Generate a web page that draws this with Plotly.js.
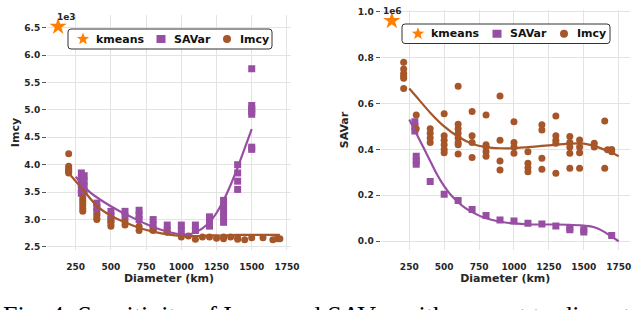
<!DOCTYPE html>
<html><head><meta charset="utf-8">
<script src="https://cdn.plot.ly/plotly-3.0.1.min.js"></script>
<style>html,body{margin:0;padding:0;background:#fff;}#chart{width:640px;height:310px;}</style>
</head><body><div id="chart"></div>
<script>
// ---------- data ----------
const kmeansX = [125];
const kmeansImcy = [6.52];   // x1e3
const kmeansSavar = [0.96];  // x1e6

// Left panel (Imcy, x1e3)
const leftSavarX = [290,290,290,290,290,310,310,310,310,400,400,400,500,500,500,600,600,700,700,700,800,800,800,900,900,1000,1000,1100,1100,1200,1200,1200,1300,1300,1300,1300,1300,1400,1400,1400,1400,1500,1500,1500,1500,1500,1500,1500];
const leftSavarY = [3.85,3.75,3.65,3.55,3.48,3.8,3.7,3.6,3.5,3.3,3.22,3.15,3.15,3.07,3.0,3.15,3.05,3.17,3.08,3.0,3.0,2.9,2.82,2.9,2.8,2.9,2.8,2.9,2.8,3.05,2.95,2.88,3.35,3.25,3.15,3.05,2.95,4.0,3.85,3.7,3.55,5.75,5.08,5.02,4.97,4.92,4.32,4.28];
const leftImcyX = [200,200,200,200,200,200,300,300,300,300,300,300,400,400,400,500,500,500,600,600,700,700,800,900,1000,1050,1100,1150,1200,1250,1300,1300,1350,1400,1400,1450,1500,1580,1650,1680,1700];
const leftImcyY = [4.2,3.97,3.93,3.9,3.87,3.85,3.4,3.35,3.3,3.25,3.2,3.15,3.08,3.03,3.0,2.97,2.92,2.88,2.96,2.9,2.88,2.8,2.8,2.77,2.68,2.7,2.64,2.68,2.68,2.66,2.65,2.68,2.68,2.67,2.64,2.63,2.67,2.67,2.63,2.65,2.65];
const leftSavarFitX = [250,350,450,550,650,750,850,950,1000,1050,1100,1150,1200,1250,1300,1350,1400,1450,1500];
const leftSavarFitY = [3.78,3.5,3.32,3.17,3.04,2.92,2.82,2.75,2.73,2.73,2.77,2.84,2.95,3.12,3.35,3.63,3.95,4.3,4.65];
const leftImcyFitX = [200,250,300,400,500,600,700,800,900,1000,1100,1200,1300,1400,1500,1600,1700];
const leftImcyFitY = [3.85,3.7,3.55,3.25,3.07,2.95,2.85,2.78,2.73,2.7,2.7,2.71,2.71,2.72,2.72,2.72,2.72];

// Right panel (SAVar, x1e6)
const rightSavarX = [290,290,290,300,300,300,400,500,600,700,800,900,1000,1100,1200,1300,1400,1400,1500,1500,1700];
const rightSavarY = [0.52,0.5,0.48,0.37,0.35,0.335,0.26,0.205,0.178,0.138,0.112,0.093,0.088,0.078,0.075,0.067,0.06,0.05,0.05,0.04,0.025];
const rightImcyX = [210,210,210,210,210,210,300,300,400,400,400,400,500,500,500,500,500,500,600,600,600,600,600,600,600,600,700,700,700,700,800,800,800,800,800,900,900,900,900,1000,1000,1000,1000,1100,1100,1100,1100,1200,1200,1200,1200,1300,1300,1300,1300,1300,1400,1400,1400,1400,1400,1470,1470,1470,1470,1575,1575,1650,1650,1670,1700,1700];
const rightImcyY = [0.78,0.75,0.73,0.72,0.71,0.665,0.55,0.49,0.49,0.47,0.45,0.43,0.555,0.46,0.44,0.42,0.40,0.385,0.675,0.51,0.49,0.47,0.45,0.43,0.42,0.38,0.565,0.46,0.43,0.365,0.55,0.42,0.41,0.39,0.37,0.633,0.44,0.35,0.31,0.52,0.43,0.41,0.383,0.39,0.34,0.32,0.303,0.507,0.485,0.361,0.314,0.546,0.46,0.44,0.427,0.296,0.456,0.43,0.41,0.383,0.318,0.441,0.41,0.385,0.318,0.427,0.41,0.524,0.318,0.398,0.39,0.4];
const rightSavarFitX = [250,300,350,400,450,500,550,600,650,700,800,900,1000,1100,1200,1300,1400,1500,1550,1600,1650,1700,1750];
const rightSavarFitY = [0.53,0.47,0.41,0.35,0.29,0.24,0.2,0.17,0.145,0.127,0.1,0.085,0.078,0.074,0.073,0.073,0.072,0.068,0.065,0.056,0.04,0.02,0.0];
const rightImcyFitX = [250,300,400,500,600,700,800,900,1000,1100,1200,1300,1400,1500,1600,1700,1750];
const rightImcyFitY = [0.665,0.63,0.56,0.5,0.455,0.425,0.41,0.405,0.405,0.41,0.415,0.42,0.425,0.425,0.41,0.385,0.37];

const xTicks = [250,500,750,1000,1250,1500,1750];
const legendNames = ['kmeans','SAVar','Imcy'];

// ---------- styles ----------
const ORANGE = '#ff7f00', PURPLE = '#984ea3', BROWN = '#a65628';
const FONT = 'DejaVu Sans';
const W = 640, H = 310;
const PX = x => x / W, PY = y => (H - y) / H;

function pts(x, y, name, color, symbol, size, xa, ya) {
  return {x, y, name, type:'scatter', mode:'markers', xaxis:xa, yaxis:ya, showlegend:false,
    marker:{color, symbol, size, line:{width:0}}};
}
function fit(x, y, color, xa, ya) {
  return {x, y, type:'scatter', mode:'lines', xaxis:xa, yaxis:ya, showlegend:false,
    line:{color, width:2.2, shape:'spline', smoothing:0.8}, hoverinfo:'skip'};
}

const traces = [
  pts(kmeansX, kmeansImcy, legendNames[0], ORANGE, 'star', 13, 'x', 'y'),
  pts(leftSavarX, leftSavarY, legendNames[1], PURPLE, 'square', 7, 'x', 'y'),
  pts(leftImcyX, leftImcyY, legendNames[2], BROWN, 'circle', 7, 'x', 'y'),
  fit(leftSavarFitX, leftSavarFitY, PURPLE, 'x', 'y'),
  fit(leftImcyFitX, leftImcyFitY, BROWN, 'x', 'y'),
  pts(kmeansX, kmeansSavar, legendNames[0], ORANGE, 'star', 13, 'x2', 'y2'),
  pts(rightSavarX, rightSavarY, legendNames[1], PURPLE, 'square', 7, 'x2', 'y2'),
  pts(rightImcyX, rightImcyY, legendNames[2], BROWN, 'circle', 7, 'x2', 'y2'),
  fit(rightSavarFitX, rightSavarFitY, PURPLE, 'x2', 'y2'),
  fit(rightImcyFitX, rightImcyFitY, BROWN, 'x2', 'y2')
];

const tickFont = {family:FONT, size:9, color:'#262626', weight:'bold'};
const titleFont = {family:FONT, size:11, color:'#262626', weight:'bold'};
function xax(domain, range, anchor) {
  return {domain, range, anchor, tickvals:xTicks, ticktext:xTicks.map(String), showgrid:true,
    gridcolor:'#e3e3e3', gridwidth:1, zeroline:false, showline:false, ticks:'',
    ticklabelstandoff:10, tickfont:tickFont, automargin:false,
    title:{text:'Diameter (km)', font:titleFont, standoff:2}};
}
function yax(domain, range, dtick, title, anchor, standoff) {
  return {domain, range, dtick, tick0:0, tickformat:'.1f', showgrid:true, gridcolor:'#e3e3e3',
    gridwidth:1, zeroline:false, showline:false, ticks:'outside', ticklen:4, tickcolor:'#555',
    tickfont:tickFont, anchor, automargin:false, title:{text:title, font:titleFont, standoff}};
}

// ---------- legend boxes (decoration) ----------
const shapes = [], annotations = [];
function starPath(cx, cy, R) {
  const r = R * 0.42; let d = '';
  for (let i = 0; i < 10; i++) {
    const a = -Math.PI / 2 + i * Math.PI / 5, rr = i % 2 ? r : R;
    d += (i ? 'L' : 'M') + PX(cx + rr * Math.cos(a)).toFixed(5) + ',' + PY(cy + rr * Math.sin(a)).toFixed(5);
  }
  return d + 'Z';
}
function legendBox(x0, y0, x1, y1, items) {
  const rad = 3;
  const p = `M${PX(x0+rad)},${PY(y0)} L${PX(x1-rad)},${PY(y0)} Q${PX(x1)},${PY(y0)} ${PX(x1)},${PY(y0+rad)} ` +
    `L${PX(x1)},${PY(y1-rad)} Q${PX(x1)},${PY(y1)} ${PX(x1-rad)},${PY(y1)} L${PX(x0+rad)},${PY(y1)} ` +
    `Q${PX(x0)},${PY(y1)} ${PX(x0)},${PY(y1-rad)} L${PX(x0)},${PY(y0+rad)} Q${PX(x0)},${PY(y0)} ${PX(x0+rad)},${PY(y0)} Z`;
  shapes.push({type:'path', xref:'paper', yref:'paper', path:p, fillcolor:'rgba(255,255,255,0.9)',
    line:{color:'#333', width:1}, layer:'above'});
  const cy = (y0 + y1) / 2;
  const [sx, qx, ox] = items;
  shapes.push({type:'path', xref:'paper', yref:'paper', path:starPath(sx, cy, 6.5), fillcolor:ORANGE, line:{width:0}, layer:'above'});
  shapes.push({type:'rect', xref:'paper', yref:'paper', x0:PX(qx-4.5), x1:PX(qx+4.5), y0:PY(cy+4), y1:PY(cy-4), fillcolor:PURPLE, line:{width:0}, layer:'above'});
  shapes.push({type:'circle', xref:'paper', yref:'paper', x0:PX(ox-4), x1:PX(ox+4), y0:PY(cy+4), y1:PY(cy-4), fillcolor:BROWN, line:{width:0}, layer:'above'});
  [sx, qx, ox].forEach((x, i) => annotations.push({text:legendNames[i], xref:'paper', yref:'paper',
    x:PX(x + 11), y:PY(cy), xanchor:'left', yanchor:'middle', showarrow:false,
    font:{family:FONT, size:11, color:'#111', weight:'bold'}}));
}
legendBox(68, 29, 272, 49, [83, 161, 227]);
legendBox(402, 24, 610, 43.5, [418, 497, 564]);

annotations.push(
  {text:'1e3', xref:'paper', yref:'paper', x:PX(55), y:PY(10), showarrow:false,
   font:{family:FONT, size:9, color:'#262626', weight:'bold'}},
  {text:'1e6', xref:'paper', yref:'paper', x:PX(392), y:PY(4), showarrow:false,
   font:{family:FONT, size:9, color:'#262626', weight:'bold'}},
  {text:'Fig. 4: Sensitivity of Imcy and SAVar with respect to diameter', xref:'paper', yref:'paper',
   x:PX(1), y:PY(299), xanchor:'left', yanchor:'top', showarrow:false,
   font:{family:'Liberation Serif', size:26, color:'#000'}}
);

const layout = {
  width:W, height:H, margin:{l:0, r:0, t:0, b:0, autoexpand:false},
  paper_bgcolor:'#fff', plot_bgcolor:'#fff', showlegend:false,
  xaxis: xax([PX(47), PX(291)], [46, 1779], 'y'),
  yaxis: yax([PY(250), PY(15)], [2.445, 6.73], 0.5, 'Imcy', 'x', 2),
  xaxis2: xax([PX(380.5), PX(630)], [44, 1831], 'y2'),
  yaxis2: yax([PY(250), PY(10)], [-0.038, 1.007], 0.2, 'SAVar', 'x2', 6),
  shapes, annotations
};

Plotly.newPlot('chart', traces, layout, {displayModeBar:false, staticPlot:true});
</script></body></html>
